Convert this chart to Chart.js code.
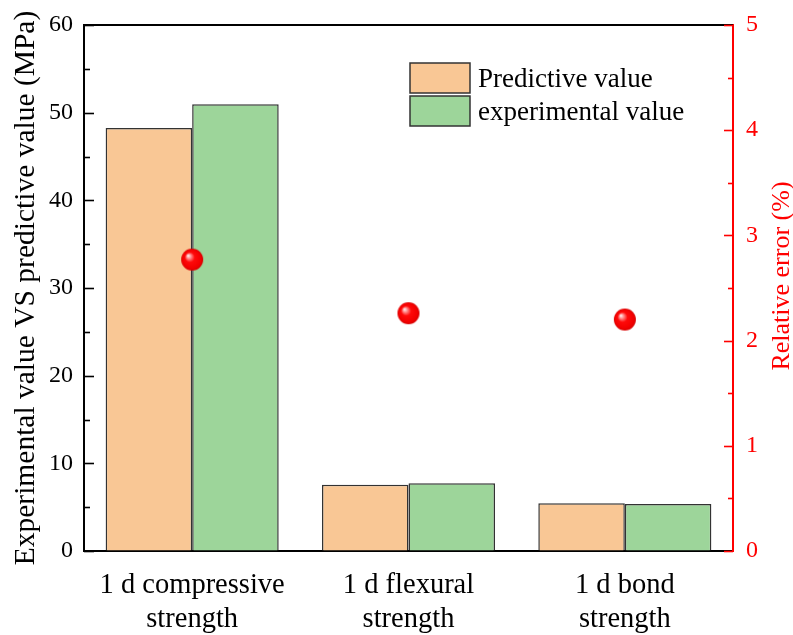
<!DOCTYPE html>
<html>
<head>
<meta charset="utf-8">
<script src="https://cdn.jsdelivr.net/npm/chart.js@4.4.1/dist/chart.umd.min.js"></script>
<style>
  html, body { margin: 0; padding: 0; background: #fff; }
  #wrap { width: 793px; height: 635px; }
</style>
</head>
<body>
<div id="wrap"><canvas id="c" width="793" height="635"></canvas></div>
<script>
// Strength categories (multi-line tick labels)
const categories = [
  ['1 d compressive', 'strength'],
  ['1 d flexural', 'strength'],
  ['1 d bond', 'strength']
];
// Strength values, MPa
const predictiveValues = [48.25, 7.55, 5.45];
const experimentalValues = [50.95, 7.72, 5.35];
// Relative error, %
const relativeError = [2.77, 2.26, 2.20];

const seriesNames = ['Predictive value', 'experimental value'];
const leftTitle = 'Experimental value VS predictive value (MPa)';
const rightTitle = 'Relative error (%)';

const FONT = '"Liberation Serif", "Times New Roman", serif';

// Glossy red sphere used as the marker for the error points
function makeBall(r) {
  const size = r * 2 + 2;
  const cv = document.createElement('canvas');
  cv.width = size; cv.height = size;
  const g = cv.getContext('2d');
  const c = size / 2;
  const grad = g.createRadialGradient(c - r * 0.38, c - r * 0.38, 0, c, c, r);
  grad.addColorStop(0, '#ffffff');
  grad.addColorStop(0.18, '#ff9a9a');
  grad.addColorStop(0.45, '#ff0a0a');
  grad.addColorStop(0.85, '#f20000');
  grad.addColorStop(1, '#d40000');
  g.fillStyle = grad;
  g.beginPath();
  g.arc(c, c, r, 0, Math.PI * 2);
  g.fill();
  return cv;
}
const ball = makeBall(11);

// Frame, inward ticks, legend and axis titles
const decor = {
  id: 'decor',
  afterDraw(chart) {
    const ctx = chart.ctx;
    const a = chart.chartArea;
    const y = chart.scales.y, y1 = chart.scales.y1;
    ctx.save();
    // top frame line
    ctx.strokeStyle = '#000';
    ctx.lineWidth = 2;
    ctx.beginPath();
    ctx.moveTo(a.left - 1, a.top);
    ctx.lineTo(a.right, a.top);
    ctx.stroke();
    // left ticks (major every 10, minor every 5)
    ctx.lineWidth = 1.6;
    for (let v = 0; v <= 60; v += 5) {
      const p = Math.round(y.getPixelForValue(v)) + 0.5;
      const len = v % 10 === 0 ? 10 : 6;
      ctx.beginPath();
      ctx.moveTo(a.left, p);
      ctx.lineTo(a.left + len, p);
      ctx.stroke();
    }
    // right ticks (major every 1, minor every 0.5)
    ctx.strokeStyle = '#ff0000';
    for (let v = 0; v <= 5; v += 0.5) {
      const p = Math.round(y1.getPixelForValue(v)) + 0.5;
      const len = Number.isInteger(v) ? 9 : 5;
      ctx.beginPath();
      ctx.moveTo(a.right, p);
      ctx.lineTo(a.right - len, p);
      ctx.stroke();
    }
    // legend for the two bar series
    const bars = chart.data.datasets.filter(d => d.type === 'bar');
    const lx = 410, ly = [63, 96], bw = 60, bh = 30;
    ctx.font = '27px ' + FONT;
    ctx.textBaseline = 'middle';
    ctx.textAlign = 'left';
    bars.forEach((d, i) => {
      ctx.fillStyle = d.backgroundColor;
      ctx.fillRect(lx, ly[i], bw, bh);
      ctx.strokeStyle = '#333';
      ctx.lineWidth = 1.5;
      ctx.strokeRect(lx, ly[i], bw, bh);
      ctx.fillStyle = '#000';
      ctx.fillText(d.label, lx + bw + 8, ly[i] + bh / 2 + 2);
    });
    // axis titles
    const cy = (a.top + a.bottom) / 2;
    ctx.textAlign = 'center';
    ctx.textBaseline = 'alphabetic';
    ctx.font = '29.5px ' + FONT;
    ctx.fillStyle = '#000';
    ctx.save();
    ctx.translate(34, cy);
    ctx.rotate(-Math.PI / 2);
    ctx.fillText(leftTitle, 0, 0);
    ctx.restore();
    ctx.font = '26px ' + FONT;
    ctx.fillStyle = '#ff0000';
    ctx.save();
    ctx.translate(789, cy - 12);
    ctx.rotate(-Math.PI / 2);
    ctx.fillText(rightTitle, 0, 0);
    ctx.restore();
    ctx.restore();
  }
};

new Chart(document.getElementById('c'), {
  data: {
    labels: categories,
    datasets: [
      {
        type: 'line',
        label: 'Relative error',
        data: relativeError,
        yAxisID: 'y1',
        showLine: false,
        pointStyle: ball,
        pointRadius: 11,
        pointHoverRadius: 11,
        order: 0
      },
      {
        type: 'bar',
        label: seriesNames[0],
        data: predictiveValues,
        yAxisID: 'y',
        backgroundColor: '#f9c795',
        borderColor: '#333333',
        borderWidth: 1.5,
        order: 1
      },
      {
        type: 'bar',
        label: seriesNames[1],
        data: experimentalValues,
        yAxisID: 'y',
        backgroundColor: '#9dd59a',
        borderColor: '#333333',
        borderWidth: 1.5,
        order: 1
      }
    ]
  },
  options: {
    responsive: false,
    animation: false,
    devicePixelRatio: 1,
    layout: { padding: { top: 25, left: 0, right: 0, bottom: 0 } },
    datasets: {
      bar: { categoryPercentage: 0.8, barPercentage: 1.0 }
    },
    plugins: {
      legend: { display: false },
      tooltip: { enabled: false }
    },
    scales: {
      x: {
        afterFit: s => { s.height = 84; },
        grid: { display: true, drawOnChartArea: false, drawTicks: false },
        border: { display: true, color: '#000', width: 2 },
        ticks: {
          padding: 17,
          color: '#000',
          font: { family: FONT, size: 28.5, lineHeight: 1.2 }
        }
      },
      y: {
        position: 'left',
        min: 0, max: 60,
        afterFit: s => { s.width = 84; },
        grid: { display: true, drawOnChartArea: false, drawTicks: false },
        border: { display: true, color: '#000', width: 2 },
        ticks: {
          stepSize: 10,
          padding: 11,
          color: '#000',
          font: { family: FONT, size: 24, lineHeight: 0.8 }
        }
      },
      y1: {
        position: 'right',
        min: 0, max: 5,
        afterFit: s => { s.width = 60; },
        grid: { display: true, drawOnChartArea: false, drawTicks: false },
        border: { display: true, color: '#ff0000', width: 2 },
        ticks: {
          stepSize: 1,
          padding: 13,
          color: '#ff0000',
          font: { family: FONT, size: 24, lineHeight: 0.8 }
        }
      }
    }
  },
  plugins: [decor]
});
</script>
</body>
</html>
